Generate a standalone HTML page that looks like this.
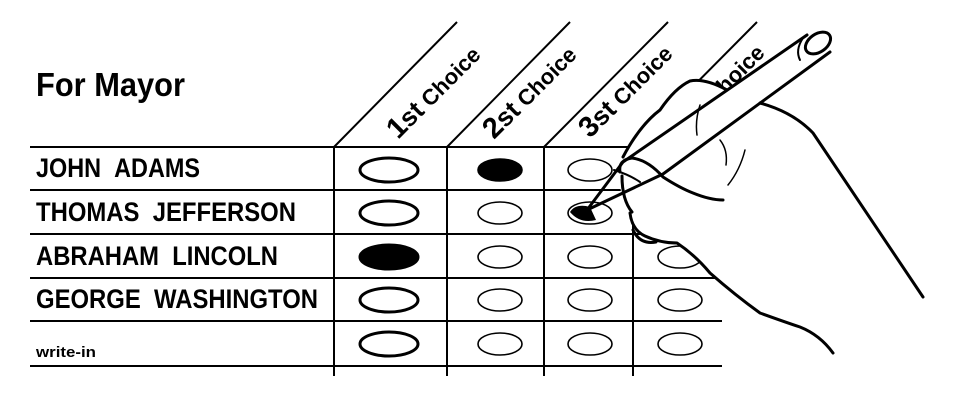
<!DOCTYPE html>
<html><head><meta charset="utf-8"><style>
html,body{margin:0;padding:0;background:#fff;}
svg{display:block;}
text{font-family:"Liberation Sans",sans-serif;font-weight:bold;fill:#000;}
</style></head><body>
<svg width="960" height="401" viewBox="0 0 960 401" xmlns="http://www.w3.org/2000/svg">
<text x="36" y="96" font-size="33" textLength="149" lengthAdjust="spacingAndGlyphs">For Mayor</text>
<g font-size="27">
<text x="36" y="177" textLength="164" lengthAdjust="spacingAndGlyphs">JOHN&#160;&#160;ADAMS</text>
<text x="36" y="221" textLength="260" lengthAdjust="spacingAndGlyphs">THOMAS&#160;&#160;JEFFERSON</text>
<text x="36" y="265" textLength="242" lengthAdjust="spacingAndGlyphs">ABRAHAM&#160;&#160;LINCOLN</text>
<text x="36" y="308" textLength="282" lengthAdjust="spacingAndGlyphs">GEORGE&#160;&#160;WASHINGTON</text>
</g>
<text x="36" y="357" font-size="15" textLength="60" lengthAdjust="spacingAndGlyphs">write-in</text>
<g stroke="#000" stroke-width="2" fill="none">
<line x1="30" y1="147" x2="722" y2="147"/>
<line x1="30" y1="190" x2="722" y2="190"/>
<line x1="30" y1="234" x2="722" y2="234"/>
<line x1="30" y1="278" x2="722" y2="278"/>
<line x1="30" y1="321" x2="722" y2="321"/>
<line x1="30" y1="366" x2="722" y2="366"/>
<line x1="334" y1="147" x2="334" y2="376"/>
<line x1="447" y1="147" x2="447" y2="376"/>
<line x1="544" y1="147" x2="544" y2="376"/>
<line x1="633" y1="147" x2="633" y2="376"/>
<line x1="334" y1="147" x2="457" y2="22"/>
<line x1="447" y1="147" x2="570" y2="22"/>
<line x1="544" y1="147" x2="668" y2="22"/>
<line x1="633" y1="147" x2="757" y2="22"/>
</g>
<g transform="translate(398,140) rotate(-45)"><text font-size="29">1<tspan font-size="26">st</tspan><tspan font-size="22"> Choice</tspan></text></g>
<g transform="translate(494,140) rotate(-45)"><text font-size="29">2<tspan font-size="26">st</tspan><tspan font-size="22"> Choice</tspan></text></g>
<g transform="translate(590,139) rotate(-45)"><text font-size="29">3<tspan font-size="26">st</tspan><tspan font-size="22"> Choice</tspan></text></g>
<g transform="translate(681,139) rotate(-45)"><text font-size="29">4<tspan font-size="26">th</tspan><tspan font-size="22"> Choice</tspan></text></g>
<g stroke="#000" fill="none">
<g stroke-width="3">
<ellipse cx="389" cy="170" rx="29" ry="12"/>
<ellipse cx="389" cy="213" rx="29" ry="12"/>
<ellipse cx="389" cy="257" rx="29" ry="12" fill="#000"/>
<ellipse cx="389" cy="300" rx="29" ry="12"/>
<ellipse cx="389" cy="344" rx="29" ry="12"/>
</g>
<g stroke-width="1.6">
<ellipse cx="500" cy="170" rx="22" ry="11" fill="#000"/>
<ellipse cx="500" cy="213" rx="22" ry="11"/>
<ellipse cx="500" cy="257" rx="22" ry="11"/>
<ellipse cx="500" cy="300" rx="22" ry="11"/>
<ellipse cx="500" cy="344" rx="22" ry="11"/>
<ellipse cx="590" cy="170" rx="22" ry="11"/>
<ellipse cx="590" cy="213" rx="22" ry="11"/>
<ellipse cx="590" cy="257" rx="22" ry="11"/>
<ellipse cx="590" cy="300" rx="22" ry="11"/>
<ellipse cx="590" cy="344" rx="22" ry="11"/>
<ellipse cx="680" cy="257" rx="22" ry="11"/>
<ellipse cx="680" cy="300" rx="22" ry="11"/>
<ellipse cx="680" cy="344" rx="22" ry="11"/>
</g>
</g>
<path d="M570 212 Q576 203 590 207 L596 220 Q580 224 570 212Z" fill="#000"/>
<!-- hand -->
<path d="M623 157 Q640 125 660 110 Q675 88 690 81 Q705 78 727 90 L760 103 Q793 112 813 133 L923 297 L880 330 Q850 345 833 353 Q820 335 800 327 Q770 318 760 313 Q735 295 710 273 Q690 250 677 243 Q657 242 645 236 Q632 225 630 213 Q618 195 620 172 Z" fill="#fff" stroke="none"/>
<g stroke="#000" stroke-width="3" fill="none" stroke-linecap="round" stroke-linejoin="round">
<path d="M623 157 Q640 125 660 110 Q675 88 690 81 Q705 78 727 90"/>
<path d="M760 103 Q793 112 813 133 L923 297"/>
<path d="M630 213 Q632 230 645 236 Q660 243 677 243 Q695 255 710 273 Q735 295 760 313 Q785 322 800 327 Q820 335 833 353"/>
<path d="M620 172 Q618 160 632 158 Q648 160 663 177 Q680 188 693 193 Q710 200 723 200"/>
<path d="M622 176 Q622 200 632 212"/>
<path d="M633 230 Q640 245 656 242"/>
<path d="M700 105 Q695 120 697 135" stroke-width="1.5"/>
<path d="M720 140 Q728 150 726 165 M745 150 Q740 170 728 185" stroke-width="1.5"/>
<!-- pencil -->
<path d="M587 210 L623 162 L807 35 M587 210 L663 174 L830 52"/>
<path d="M614 170 Q630 175 640 182" stroke-width="2"/>
<ellipse cx="818" cy="43" rx="14" ry="9" transform="rotate(-35 818 43)" fill="#fff"/>
<path d="M800 60 Q795 50 803 38" stroke-width="2"/>
</g>
</svg>
</body></html>
